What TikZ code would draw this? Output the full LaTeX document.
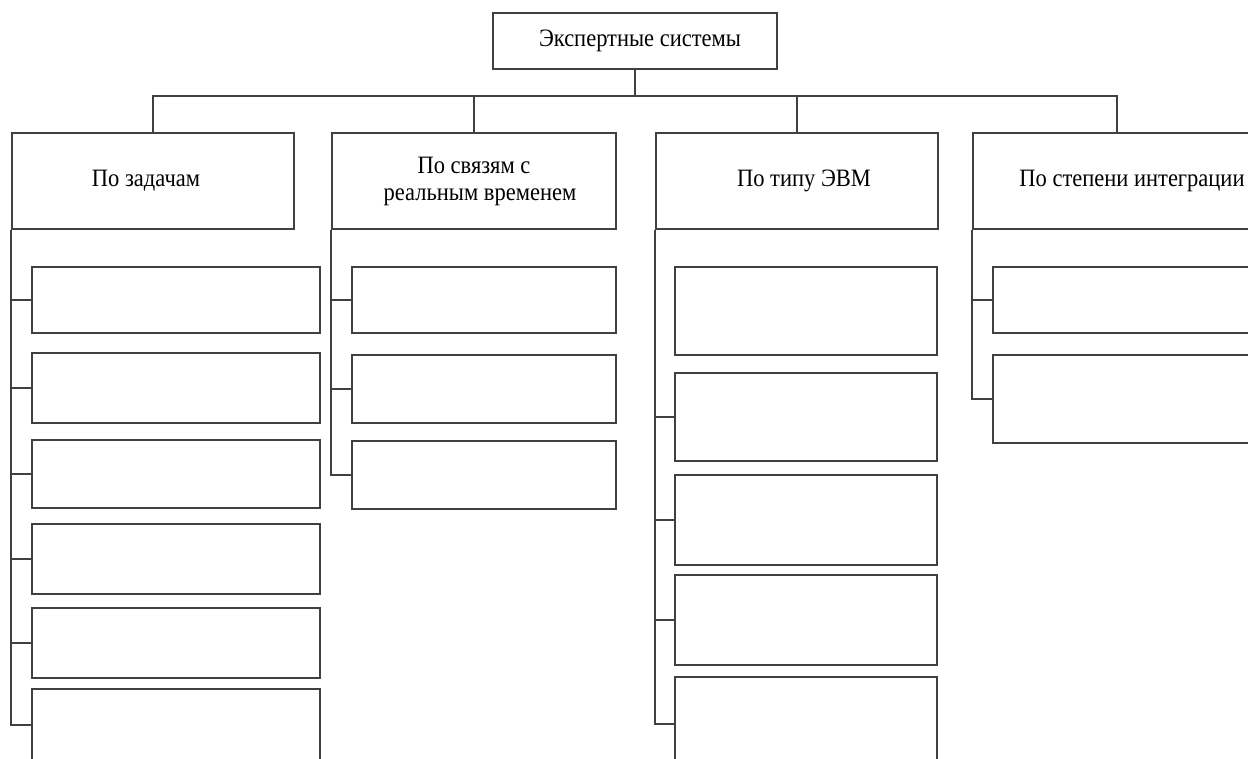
\documentclass[tikz,border=0pt]{standalone}
\usepackage{fontspec}
\setmainfont{Liberation Serif}[FakeStretch=0.9]
\begin{document}
\begin{tikzpicture}[x=1pt,y=-1pt,
  box/.style={draw=black!75, line width=2pt, inner sep=0pt, fill=white,
    font=\fontsize{25}{27}\selectfont, align=center},
  conn/.style={draw=black!75, line width=2pt}]
\useasboundingbox (0,0) rectangle (1248,758);
\clip (0,0) rectangle (1248,758);
\fill[white] (0,0) rectangle (1248,758);

% top
\node[box, minimum width=284pt, minimum height=56pt] (top) at (635,41) {\hspace*{10pt}Экспертные системы};

% headers
\node[box, minimum width=282pt, minimum height=96pt] (h1) at (153,181) {По задачам\hspace*{14pt}};
\node[box, minimum width=284pt, minimum height=96pt] (h2) at (474,181) {\hspace*{12pt}По связям с\hspace*{12pt}\\\hspace*{12pt}реальным временем};
\node[box, minimum width=282pt, minimum height=96pt] (h3) at (797,181) {\hspace*{14pt}По типу ЭВМ};
\node[box, minimum width=318pt, minimum height=96pt] (h4) at (1132,181) {По степени интеграции};

% column 1 children
\node[box, minimum width=288pt, minimum height=66pt] (c11) at (176,300) {};
\node[box, minimum width=288pt, minimum height=70pt] (c12) at (176,388) {};
\node[box, minimum width=288pt, minimum height=68pt] (c13) at (176,474) {};
\node[box, minimum width=288pt, minimum height=70pt] (c14) at (176,559) {};
\node[box, minimum width=288pt, minimum height=70pt] (c15) at (176,643) {};
\node[box, minimum width=288pt, minimum height=72pt] (c16) at (176,725) {};

% column 2 children
\node[box, minimum width=264pt, minimum height=66pt] (c21) at (484,300) {};
\node[box, minimum width=264pt, minimum height=68pt] (c22) at (484,389) {};
\node[box, minimum width=264pt, minimum height=68pt] (c23) at (484,475) {};

% column 3 children
\node[box, minimum width=262pt, minimum height=88pt] (c31) at (806,311) {};
\node[box, minimum width=262pt, minimum height=88pt] (c32) at (806,417) {};
\node[box, minimum width=262pt, minimum height=90pt] (c33) at (806,520) {};
\node[box, minimum width=262pt, minimum height=90pt] (c34) at (806,620) {};
\node[box, minimum width=262pt, minimum height=94pt] (c35) at (806,724) {};

% column 4 children
\node[box, minimum width=298pt, minimum height=66pt] (c41) at (1142,300) {};
\node[box, minimum width=298pt, minimum height=88pt] (c42) at (1142,399) {};

% top connectors
\coordinate (bus) at (top.south |- 0,96);
\draw[conn] (top.south) -- (bus);
\draw[conn] (h1.north) |- (bus);
\draw[conn] (bus) -| ([xshift=145pt]h4.north west);
\draw[conn] (h2.north) -- (h2.north |- bus);
\draw[conn] (h3.north) -- (h3.north |- bus);

% column spines and branches
\foreach \c in {c11,c12,c13,c14,c15,c16} \draw[conn] (h1.south west) |- (\c.west);
\foreach \c in {c21,c22,c23} \draw[conn] (h2.south west) |- (\c.west);
\foreach \c in {c32,c33,c34,c35} \draw[conn] (h3.south west) |- (\c.west);
\foreach \c in {c41,c42} \draw[conn] (h4.south west) |- (\c.west);
\end{tikzpicture}
\end{document}
